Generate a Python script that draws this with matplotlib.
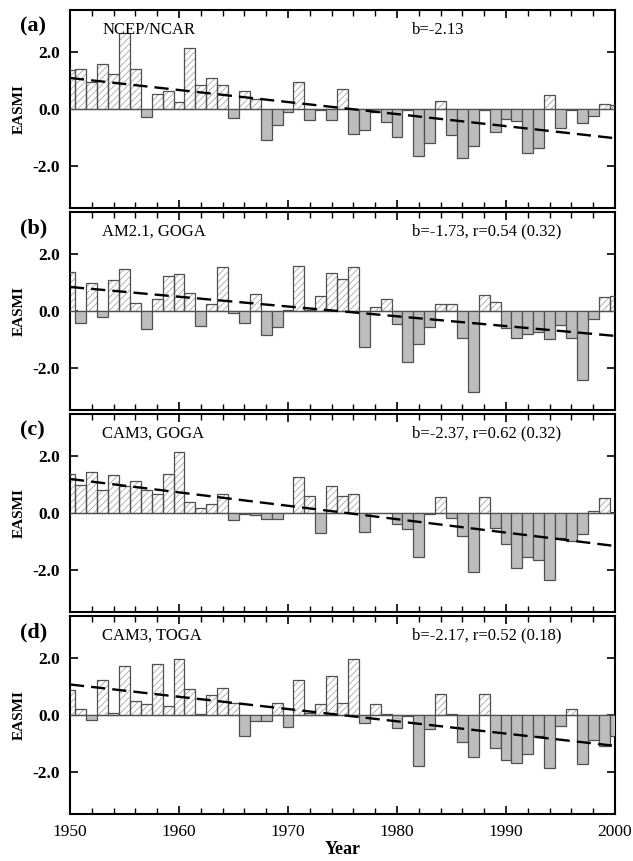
import numpy as np
import matplotlib
matplotlib.use("Agg")
import matplotlib.pyplot as plt
from matplotlib.ticker import MultipleLocator

plt.rcParams['font.family'] = ['Liberation Serif', 'DejaVu Serif']
plt.rcParams['hatch.linewidth'] = 0.6

years = np.arange(1950, 2001)

ncep = [1.38, 1.40, 0.97, 1.58, 1.23, 2.67, 1.42, -0.28, 0.53, 0.65,
        0.25, 2.16, 0.84, 1.11, 0.85, -0.32, 0.65, 0.36, -1.08, -0.58,
        -0.10, 0.97, -0.38, -0.02, -0.40, 0.70, -0.87, -0.75, -0.10, -0.45,
        -0.98, -0.02, -1.67, -1.19, 0.27, -0.91, -1.74, -1.32, -0.02, -0.80,
        -0.36, -0.41, -1.54, -1.39, 0.48, -0.67, -0.02, -0.51, -0.26, 0.19, 0.15]
am21_goga = [1.37, -0.41, 0.98, -0.22, 1.08, 1.49, 0.27, -0.64, 0.41, 1.25,
             1.30, 0.63, -0.54, 0.25, 1.55, -0.08, -0.41, 0.60, -0.86, -0.56,
             0.03, 1.59, 0.02, 0.54, 1.36, 1.12, 1.57, -1.28, 0.14, 0.41,
             -0.45, -1.80, -1.17, -0.56, 0.23, 0.23, -0.96, -2.85, 0.57, 0.32,
             -0.59, -0.97, -0.80, -0.76, -1.00, -0.48, -0.97, -2.45, -0.27, 0.50, 0.53]
cam3_goga = [1.37, 0.99, 1.46, 0.82, 1.35, 0.94, 1.13, 0.82, 0.67, 1.38,
             2.17, 0.39, 0.18, 0.32, 0.68, -0.26, -0.03, -0.08, -0.20, -0.20,
             0.00, 1.26, 0.61, -0.70, 0.96, 0.61, 0.68, -0.67, 0.00, 0.00,
             -0.40, -0.57, -1.57, -0.05, 0.55, -0.18, -0.80, -2.08, 0.57, -0.52,
             -1.09, -1.94, -1.55, -1.67, -2.38, -0.90, -0.99, -0.74, 0.07, 0.53, 0.00]
cam3_toga = [0.87, 0.21, -0.18, 1.25, 0.06, 1.73, 0.50, 0.40, 1.81, 0.33,
             1.97, 0.91, 0.02, 0.70, 0.97, 0.44, -0.76, -0.20, -0.20, 0.41,
             -0.43, 1.25, 0.06, 0.40, 1.37, 0.44, 1.99, -0.29, 0.39, 0.05,
             -0.47, -0.04, -1.79, -0.49, 0.74, 0.04, -0.94, -1.49, 0.76, -1.18,
             -1.59, -1.71, -1.38, -0.73, -1.88, -0.39, 0.20, -1.73, -0.88, -1.08, -0.76]

series = [ncep, am21_goga, cam3_goga, cam3_toga]
letters = ["(a)", "(b)", "(c)", "(d)"]
names = ["NCEP/NCAR", "AM2.1, GOGA", "CAM3, GOGA", "CAM3, TOGA"]
b_vals = [-2.13, -1.73, -2.37, -2.17]
stats = ["b=-2.13", "b=-1.73, r=0.54 (0.32)", "b=-2.37, r=0.62 (0.32)",
         "b=-2.17, r=0.52 (0.18)"]

W, H = 633, 861
fig = plt.figure(figsize=(W / 100, H / 100), dpi=100)

tops = [10, 212, 414, 616]
ph = 198
for i in range(4):
    ax = fig.add_axes([70 / W, 1 - (tops[i] + ph) / H, 545 / W, ph / H])
    v = np.array(series[i])
    pos = v >= 0
    neg = ~pos
    # hatched positive bars: hatch pass then outline pass
    ax.bar(years[pos], v[pos], width=1.0, color="white", edgecolor="#a8a8a8",
           linewidth=0, hatch="/////", zorder=2)
    ax.bar(years[pos], v[pos], width=1.0, fill=False, edgecolor="#505050",
           linewidth=0.9, zorder=3)
    ax.bar(years[neg], v[neg], width=1.0, color="#bdbdbd", edgecolor="#505050",
           linewidth=0.9, zorder=3)
    ax.axhline(0, color="#8a8a8a", lw=1.0, zorder=2.5)

    # linear trend, total change b over the period
    trend = v.mean() + b_vals[i] * (years - 1975) / 50.0
    ax.plot(years, trend, color="black", lw=1.7, dashes=(6, 3), zorder=4)

    ax.set_xlim(1950, 2000)
    ax.set_ylim(-3.5, 3.5)
    ax.set_yticks([-2, 0, 2])
    ax.set_yticklabels(["-2.0", "0.0", "2.0"], fontweight="bold", fontsize=12.5)
    ax.xaxis.set_major_locator(MultipleLocator(10))
    ax.xaxis.set_minor_locator(MultipleLocator(2))
    ax.tick_params(axis="both", which="major", direction="in", top=True,
                   right=True, length=6, width=1.2, pad=7)
    ax.tick_params(axis="x", which="minor", direction="in", top=True,
                   length=4, width=1.0)
    for s in ax.spines.values():
        s.set_linewidth(1.5)
    if i < 3:
        ax.set_xticklabels([])
    else:
        for t in ax.get_xticklabels():
            t.set_fontsize(12.5)
        ax.set_xlabel("Year", fontweight="bold", fontsize=13, labelpad=1)

    ax.set_ylabel("EASMI", fontweight="bold", fontsize=11, labelpad=5)
    ax.text(-0.092, 0.915, letters[i], transform=ax.transAxes, fontsize=16,
            fontweight="bold", va="center", ha="left")
    ax.text(0.059, 0.9, names[i], transform=ax.transAxes, fontsize=12,
            va="center", ha="left")
    ax.text(0.628, 0.9, stats[i], transform=ax.transAxes, fontsize=12,
            va="center", ha="left")

fig.savefig("out.png", dpi=100)
